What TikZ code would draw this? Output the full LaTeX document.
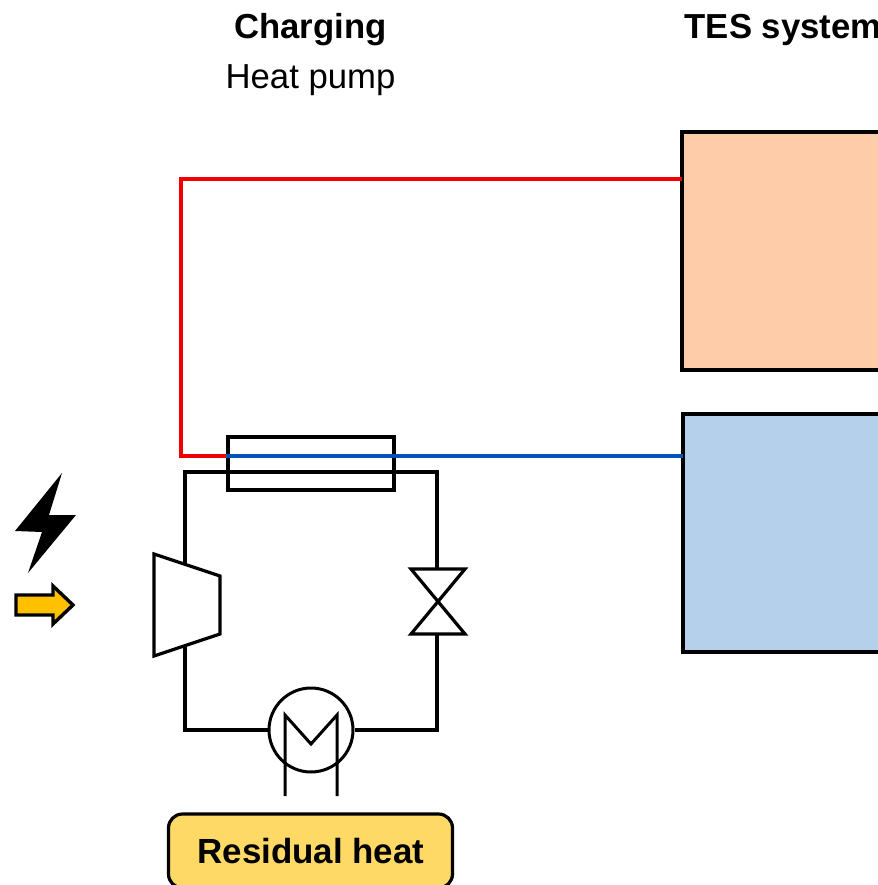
\documentclass[tikz,border=0pt]{standalone}
\usepackage{fontspec}
\setmainfont{Liberation Sans}
\definecolor{hotfill}{HTML}{FFCCAA}
\definecolor{coldfill}{HTML}{B4D0EA}
\definecolor{hotline}{HTML}{F00000}
\definecolor{coldline}{HTML}{0050B8}
\definecolor{sourcefill}{HTML}{FFD966}
\definecolor{arrowfill}{HTML}{FFC000}
\begin{document}
\begin{tikzpicture}[x=1pt,y=1pt,line join=miter,
    pipe/.style={black,line width=3.2pt},
    thin pipe/.style={black,line width=3pt},
    tank/.style={draw=black,line width=3.1pt,minimum width=318pt,minimum height=238pt,inner sep=0pt},
    title/.style={inner sep=0pt,font=\fontsize{34.7}{40}\selectfont}]
    \useasboundingbox (0,0) rectangle (877,-885);
    \coordinate (hotport) at (682,-179);
    \coordinate (coldport) at (683,-456);
    \coordinate (hxin) at (181,-456);
    \coordinate (comptop) at (185,-565);
    \coordinate (compbot) at (185,-645);
    \coordinate (valvetop) at (437,-569);
    \coordinate (valvemid) at (438,-601.5);
    \coordinate (valvebot) at (437,-634);
    \node [title] (charging) at (310.5,-30) {\bfseries Charging};
    \node [title] (heatpump) at (310.5,-80) {Heat pump};
    \node [title,anchor=west] (tes) at (684.5,-30) {\bfseries TES system};
    \node [tank,fill=hotfill] (hot) at (841,-251) {};
    \node [tank,fill=coldfill] (cold) at (842,-533) {};
    \node [draw=black,line width=3.1pt,minimum width=166pt,minimum height=53pt,inner sep=0pt] (hx) at (311,-463.5) {};
    \node [draw=black,circle,line width=3pt,minimum size=84pt,inner sep=0pt] (evap) at (311,-730) {};
    \node [draw=black,fill=sourcefill,line width=3.2pt,rounded corners=14pt,minimum width=284pt,minimum height=74pt,inner sep=0pt] (residual) at (310.5,-851) {};
    \node [title,font=\fontsize{34.9}{40}\selectfont\bfseries] (residualtext) at (311,-851) {Residual heat};
    \draw [hotline,line width=3.2pt] (hotport) -| (hxin) -- (hx.west |- hxin);
    \draw [coldline,line width=3.2pt] (hx.west |- coldport) -- (coldport);
    \draw [pipe] (comptop) |- (hx.west |- 0,-472) -- (hx.east |- 0,-472) -| (valvetop);
    \draw [pipe] (compbot) |- (evap.west);
    \draw [pipe] (valvebot) |- (evap.east);
    \draw [pipe] (154,-554) -- (220,-576) -- (220,-634) -- (154,-656) -- cycle;
    \draw [pipe] (411,-569) -- (465,-569) -- (valvemid) -- (465,-634) -- (411,-634) -- (valvemid) -- cycle;
    \draw [thin pipe] (285,-796) -- (285,-715) -- (311,-744) -- (337,-715) -- (337,-796);
    \fill [black] (62,-473) -- (15,-531) -- (42,-532) -- (28,-573) -- (76,-515) -- (49,-515) -- cycle;
    \draw [black,fill=arrowfill,line width=3.4pt] (16,-595) -- (53,-595) -- (53,-586) -- (73,-605) -- (53,-624) -- (53,-615) -- (16,-615) -- cycle;
\end{tikzpicture}
\end{document}
